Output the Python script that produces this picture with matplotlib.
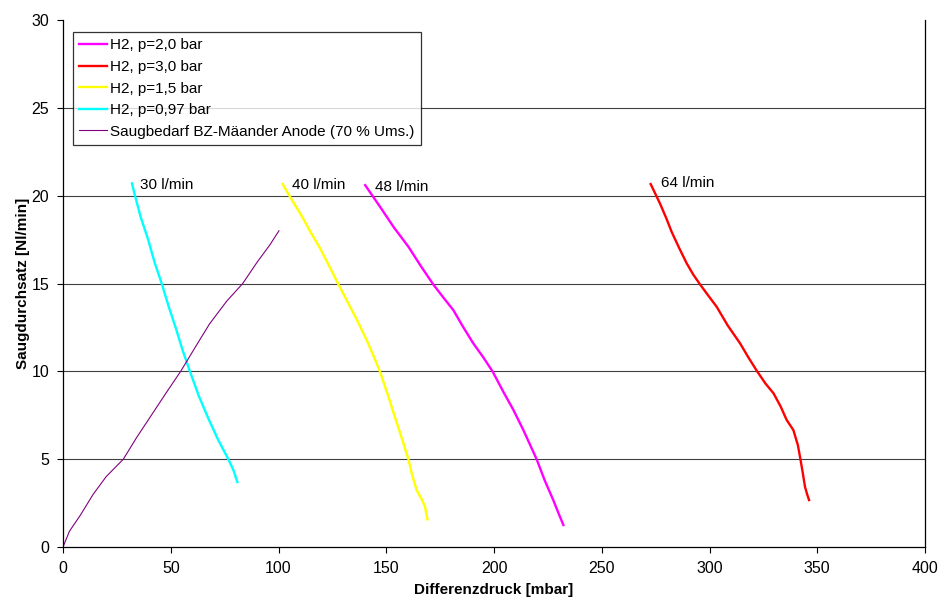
import matplotlib
matplotlib.use("Agg")
import matplotlib.pyplot as plt

plt.rcParams["font.family"] = ["Liberation Sans", "DejaVu Sans"]

# H2, p=2,0 bar (48 l/min)
x_p20 = [140.2, 147.1, 153.5, 160.3, 166.0, 171.8, 176.5, 181.1, 185.8, 190.4, 195.0, 199.4, 204.3, 209.0, 213.6, 216.8, 219.8, 223.5, 227.5, 230.0, 232.2]
y_p20 = [20.6, 19.37, 18.2, 17.09, 16.0, 14.95, 14.2, 13.49, 12.5, 11.59, 10.8, 9.98, 8.84, 7.8, 6.66, 5.8, 4.99, 3.8, 2.67, 1.9, 1.25]

# H2, p=3,0 bar (64 l/min)
x_p30 = [272.7, 277.0, 280.0, 282.4, 286.0, 289.4, 292.5, 295.6, 299.5, 303.3, 308.5, 314.2, 318.0, 322.2, 326.0, 329.7, 333.0, 335.8, 338.9, 341.0, 342.2, 343.3, 344.3, 345.3, 346.2]
y_p30 = [20.66, 19.56, 18.7, 17.95, 17.0, 16.15, 15.5, 14.95, 14.3, 13.68, 12.6, 11.59, 10.8, 9.98, 9.3, 8.75, 8.0, 7.23, 6.66, 5.8, 4.99, 4.2, 3.43, 3.0, 2.67]

# H2, p=1,5 bar (40 l/min)
x_p15 = [101.9, 106.0, 110.5, 115.0, 119.3, 123.5, 127.8, 131.6, 136.5, 140.9, 144.0, 147.1, 151.0, 154.0, 157.2, 160.3, 162.0, 164.1, 166.5, 168.0, 169.1]
y_p15 = [20.66, 19.8, 18.9, 17.9, 17.0, 16.0, 14.95, 14.06, 12.9, 11.78, 10.9, 9.98, 8.56, 7.4, 6.2, 4.99, 4.1, 3.24, 2.7, 2.29, 1.57]

# H2, p=0,97 bar (30 l/min)
x_p097 = [32.0, 33.4, 36.0, 39.5, 42.5, 45.8, 49.0, 52.5, 55.5, 58.9, 63.0, 67.5, 72.0, 76.7, 79.0, 80.9]
y_p097 = [20.7, 20.0, 18.8, 17.5, 16.2, 15.0, 13.7, 12.4, 11.2, 10.0, 8.6, 7.3, 6.1, 5.0, 4.4, 3.7]

# Saugbedarf BZ-Maeander Anode (70 % Ums.)
x_saug = [0.0, 1.0, 3.0, 8.0, 14.0, 20.0, 28.0, 34.0, 41.0, 48.0, 54.6, 62.0, 68.0, 76.0, 83.4, 90.0, 96.0, 100.2]
y_saug = [0.0, 0.3, 0.9, 1.8, 3.0, 4.0, 5.0, 6.2, 7.5, 8.8, 10.0, 11.5, 12.7, 14.0, 15.0, 16.2, 17.2, 18.0]

flow_labels = ["30 l/min", "40 l/min", "48 l/min", "64 l/min"]
flow_label_x = [35.7, 106.3, 144.8, 277.3]
flow_label_y = [20.6, 20.6, 20.5, 20.7]

fig = plt.figure(figsize=(9.39, 6.03), dpi=100)
ax = fig.add_axes([0.0671, 0.0929, 0.9180, 0.8739])

for yv in [5, 10, 15, 20, 25]:
    ax.axhline(yv, color="#404040", lw=0.8, zorder=0)

ax.plot(x_p20, y_p20, color="#FF00FF", lw=1.7, label="H2, p=2,0 bar")
ax.plot(x_p30, y_p30, color="#FF0000", lw=1.7, label="H2, p=3,0 bar")
ax.plot(x_p15, y_p15, color="#FFFF00", lw=1.7, label="H2, p=1,5 bar")
ax.plot(x_p097, y_p097, color="#00FFFF", lw=1.7, label="H2, p=0,97 bar")
ax.plot(x_saug, y_saug, color="#800080", lw=0.8, label="Saugbedarf BZ-Mäander Anode (70 % Ums.)")

for txt, tx, ty in zip(flow_labels, flow_label_x, flow_label_y):
    ax.text(tx, ty, txt, fontsize=11, va="center", ha="left")

ax.set_xlim(0, 400)
ax.set_ylim(0, 30)
ax.set_xticks(range(0, 401, 50))
ax.set_yticks(range(0, 31, 5))
ax.tick_params(labelsize=11.5, direction="out", length=4, width=0.8, pad=6)
ax.spines["top"].set_visible(False)
for s in ["left", "bottom", "right"]:
    ax.spines[s].set_linewidth(0.9)

ax.set_xlabel("Differenzdruck [mbar]", fontsize=11, fontweight="bold", labelpad=5)
ax.set_ylabel("Saugdurchsatz [Nl/min]", fontsize=11, fontweight="bold", labelpad=1)

leg = ax.legend(loc="upper left", bbox_to_anchor=(0.0116, 0.977), borderaxespad=0,
                fontsize=11, frameon=True, fancybox=False, edgecolor="black",
                handlelength=1.8, handletextpad=0.25, labelspacing=0.5, borderpad=0.4)
leg.get_frame().set_linewidth(0.9)

fig.savefig("out.png", dpi=100)
